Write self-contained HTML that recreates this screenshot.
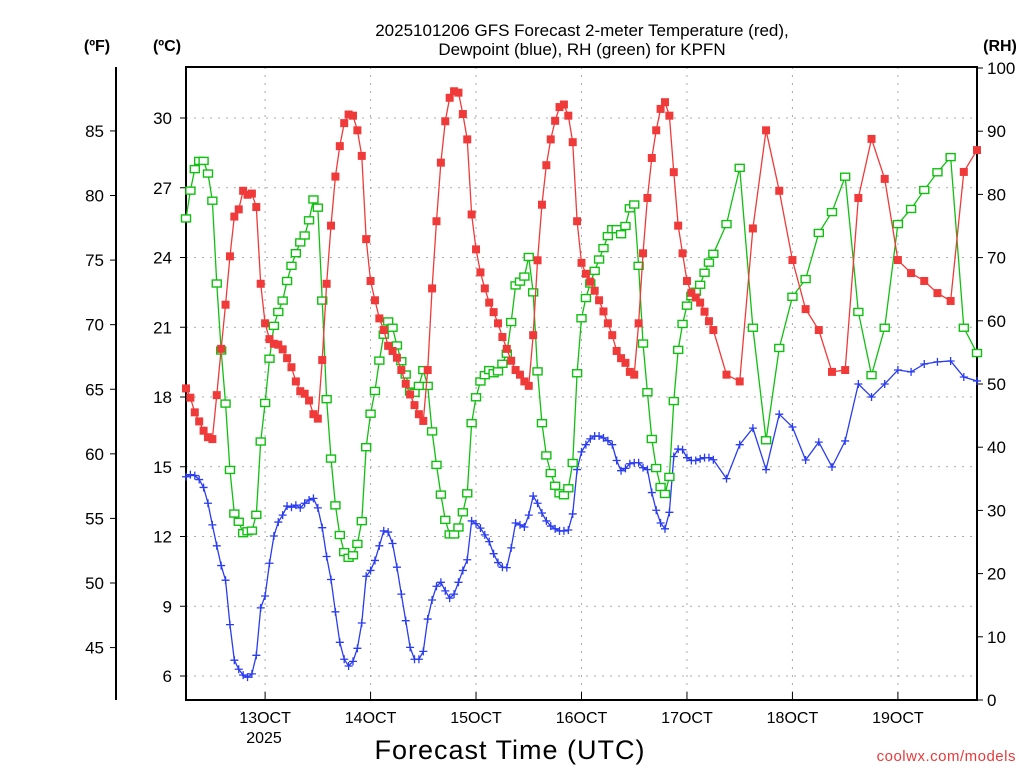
<!DOCTYPE html>
<html><head><meta charset="utf-8"><style>
body{margin:0;background:#fff;}
svg text{font-family:"Liberation Sans",sans-serif;}
</style></head><body>
<svg id="chart" width="1024" height="768" xmlns="http://www.w3.org/2000/svg">
<rect width="1024" height="768" fill="#fff"/>
<g id="grid"></g>
<g id="axes"></g>
<g id="series"></g>
<text x="582" y="36" text-anchor="middle" font-size="17">2025101206 GFS Forecast 2-meter Temperature (red),</text>
<text x="582" y="55" text-anchor="middle" font-size="17">Dewpoint (blue), RH (green) for KPFN</text>
<text x="97" y="51" text-anchor="middle" font-size="16" font-weight="bold">(ºF)</text>
<text x="167" y="51" text-anchor="middle" font-size="16" font-weight="bold">(ºC)</text>
<text x="1000" y="51" text-anchor="middle" font-size="16" font-weight="bold">(RH)</text>
<text x="510" y="759" text-anchor="middle" font-size="27" letter-spacing="1">Forecast Time (UTC)</text>
<text x="264" y="743" text-anchor="middle" font-size="16">2025</text>
<text x="1016" y="761" text-anchor="end" font-size="15" fill="#e83a3a" letter-spacing="0.5">coolwx.com/models</text>
</svg>
<script>
// hours from forecast start; dense hourly to 120, then 3-hourly
const tempC = [18.37,17.97,17.34,16.95,16.55,16.27,16.19,18.08,20.07,21.97,24.05,25.76,26.07,26.87,26.70,26.75,26.17,22.87,21.17,20.49,20.29,20.25,20.05,19.67,19.28,18.67,18.25,18.14,17.85,17.26,17.07,19.59,22.87,25.37,27.48,28.79,29.78,30.15,30.1,29.47,28.37,24.79,22.99,22.16,21.38,20.88,
20.2,19.98,19.69,19.16,18.57,18.11,17.65,17.26,16.97,19.16,22.67,25.56,28.08,29.86,30.87,31.15,31.09,30.17,29.08,25.85,24.35,23.36,22.67,22.06,21.65,21.17,20.58,20.07,19.56,19.16,18.96,18.67,18.48,20.66,23.88,26.27,27.97,29.08,29.88,30.47,30.58,30.1,28.96,25.56,23.77,23.3,22.96,22.57,22.16,21.68,21.17,20.66,19.98,19.67,19.47,19.08,18.96,21.17,24.18,26.56,28.28,29.47,30.39,30.68,30.1,27.67,25.37,24.18,22.99,22.48,22.28,22.06,21.67,21.26,20.88,
18.96,18.67,25.25,29.47,26.87,23.89,21.78,20.88,19.08,19.16,26.56,29.1,27.38,23.89,23.33,22.99,22.47,22.13,27.68,28.62];
const dewC = [14.57,14.66,14.62,14.45,14.11,13.43,12.5,11.6,10.75,10.12,8.21,6.68,6.29,6.04,5.95,6.09,6.89,8.93,9.44,10.85,12.02,12.62,12.92,13.31,13.26,13.35,13.23,13.43,13.57,13.64,13.23,12.38,11.14,10.15,8.76,7.45,6.72,6.43,6.63,7.19,8.28,10.29,10.54,10.97,11.6,12.24,
12.19,11.7,10.68,9.52,8.38,7.23,6.72,6.72,7.06,8.45,9.27,9.86,10.03,9.66,9.35,9.52,10.03,10.54,11.0,12.67,12.55,12.36,12.07,11.78,11.26,10.88,10.68,10.66,11.51,12.58,12.5,12.41,12.92,13.74,13.43,13.01,12.67,12.45,12.33,12.24,12.24,12.28,12.97,14.88,15.64,15.95,16.2,16.32,16.32,16.24,16.12,15.95,15.27,14.83,14.93,15.13,15.17,15.17,14.96,14.88,13.89,13.13,12.58,12.33,13.04,15.44,15.76,15.73,15.39,15.27,15.27,15.34,15.39,15.39,15.3,
14.49,15.95,16.66,14.88,17.26,16.71,15.29,16.06,14.99,16.11,18.56,18.0,18.56,19.16,19.08,19.42,19.51,19.55,18.86,18.69];
const rhPct = [76.2,80.6,84,85.3,85.3,83.3,79,65.9,55.3,46.9,36.4,29.5,28.2,26.4,26.7,26.8,29.3,40.9,47,54,59.2,61.4,63.2,66.3,68.7,70.7,72.4,73.5,75.9,79.2,77.9,63.2,47.6,38.2,30.8,26.1,23.4,22.5,22.9,24.7,28.3,40,45.3,48.9,53.7,57.8,
59.9,58.9,56.1,53.6,51.5,48.8,48.6,49.7,52.2,49.7,42.5,37.2,32.5,28.5,26.2,26.2,27.3,29.7,32.7,43.8,47.9,50.4,51.4,52.2,51.7,52,53.2,54.8,59.8,65.6,66.2,67,70.1,64.5,52,43.8,38.7,35.9,33.9,32.7,32.4,33.5,37.5,51.7,60.4,63.6,65.9,67.9,69.7,71.5,73.4,74.5,74.5,73.7,75,77.8,78.4,68.7,56.4,48.7,41.3,36.7,33.7,32.6,35.3,47.3,55.4,59.5,62.4,63.9,64.6,65.7,67.6,69.2,70.6,
75.3,84.2,58.9,41.1,55.7,63.8,66.6,73.9,77.2,82.8,61.4,51.4,58.9,75.3,77.7,80.7,83.5,85.9,58.9,54.9];
const cTicks = [6,9,12,15,18,21,24,27,30];
const fTicks = [45,50,55,60,65,70,75,80,85];
const rhTicks = [0,10,20,30,40,50,60,70,80,90,100];
const dayLabels = ["13OCT","14OCT","15OCT","16OCT","17OCT","18OCT","19OCT"];
const dayHours = [18,42,66,90,114,138,162];

const NS="http://www.w3.org/2000/svg";
const L=186,R=977,T=67,B=700;
function hoursFor(n){const h=[];for(let i=0;i<n;i++)h.push(i<=120?i:120+3*(i-120));return h;}
const xS=h=>L+h*(R-L)/180;
const yC=c=>676-(c-6)*23.25;
const yRH=r=>B-r*(B-68)/100;
function el(tag,attrs,parent){const e=document.createElementNS(NS,tag);for(const k in attrs)e.setAttribute(k,attrs[k]);parent.appendChild(e);return e;}
const grid=document.getElementById('grid'),axes=document.getElementById('axes'),ser=document.getElementById('series');

cTicks.forEach(c=>{
  const g=el('line',{x1:L,x2:R,y1:yC(c),y2:yC(c),stroke:'#aaa','stroke-dasharray':'2,6'},grid);
  
  
  const t=el('line',{x1:L-6,x2:L,y1:yC(c),y2:yC(c),stroke:'#000'},axes);
  
  
  const tx=el('text',{x:L-14,y:yC(c)+6,'text-anchor':'end','font-size':17},axes);
  tx.textContent=c;
  
  
});
dayHours.forEach((h,i)=>{
  const g=el('line',{x1:xS(h),x2:xS(h),y1:T,y2:B,stroke:'#aaa','stroke-dasharray':'2,6'},grid);
  
  
  const t=el('line',{x1:xS(h),x2:xS(h),y1:B,y2:B-8,stroke:'#000'},axes);
  
  
  const tx=el('text',{x:xS(h),y:723,'text-anchor':'middle','font-size':16},axes);
  tx.textContent=dayLabels[i];
  
  
});
fTicks.forEach(f=>{
  const y=yC((f-32)*5/9);
  const t=el('line',{x1:110,x2:116,y1:y,y2:y,stroke:'#000'},axes);
  
  
  const tx=el('text',{x:104,y:y+6,'text-anchor':'end','font-size':17},axes);
  tx.textContent=f;
  
  
});
rhTicks.forEach(r=>{
  const t=el('line',{x1:R,x2:R+6,y1:yRH(r),y2:yRH(r),stroke:'#000'},axes);
  
  
  const tx=el('text',{x:987,y:yRH(r)+6,'text-anchor':'start','font-size':17},axes);
  tx.textContent=r;
  
  
});
const frame=el('rect',{x:L,y:T,width:R-L,height:B-T,fill:'none',stroke:'#000','stroke-width':2},axes);


const fl=el('line',{x1:116,x2:116,y1:T,y2:B,stroke:'#000','stroke-width':2},axes);



function drawLine(vals,yf,color,name){
  const hs=hoursFor(vals.length);
  const p=el('polyline',{points:vals.map((v,i)=>xS(hs[i])+','+yf(v)).join(' '),fill:'none',stroke:color,'stroke-width':1.3},ser);
  
  
  return hs;
}
const hd=drawLine(dewC,yC,'#2a3cf0','dewpoint-line');
dewC.forEach((v,i)=>{
  const x=xS(hd[i]),y=yC(v);
  const m=el('path',{d:`M${x-4},${y}H${x+4}M${x},${y-4}V${y+4}`,stroke:'#2a3cf0','stroke-width':1.3},ser);
  
  
});
const hr=drawLine(rhPct,yRH,'#10c010','rh-line');
rhPct.forEach((v,i)=>{
  const m=el('rect',{x:xS(hr[i])-4.5,y:yRH(v)-3.5,width:9,height:7,fill:'#fff',stroke:'#10c010','stroke-width':1.4},ser);
  
  
});
const ht=drawLine(tempC,yC,'#f03a3a','temperature-line');
tempC.forEach((v,i)=>{
  const m=el('rect',{x:xS(ht[i])-4,y:yC(v)-4,width:8,height:8,fill:'#f03a3a'},ser);
  
  
});
</script>
</body></html>
